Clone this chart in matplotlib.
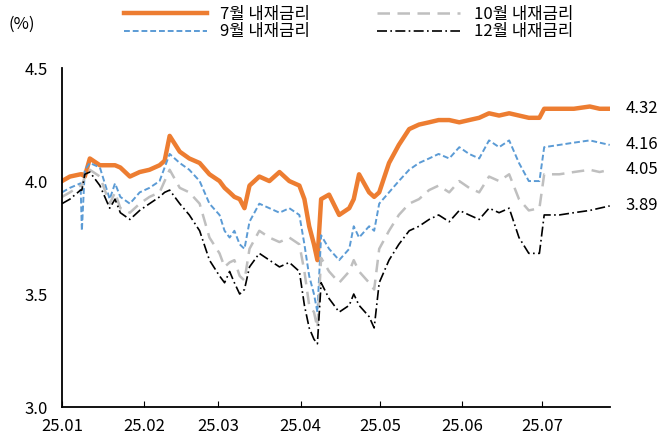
import numpy as np
import matplotlib
matplotlib.use("Agg")
import matplotlib.pyplot as plt

plt.rcParams["font.family"] = ["Noto Sans CJK JP", "Noto Sans CJK KR", "Noto Sans CJK SC",
                               "DejaVu Sans"]

# days since 2025-01-01
days = [0, 3, 7, 7.5, 8.6, 10.5, 14.3, 18, 20, 22, 25.6, 29.3, 33, 36.8, 38.7, 40.6,
        44.4, 48, 51.9, 55.6, 59.4, 61.3, 63.2, 65, 67, 68.8, 70.7, 74.4, 78.2, 82,
        85.7, 89.5, 91.4, 93.2, 95, 96.3, 97.7, 100.7, 104.5, 108.3, 110, 112, 115.8,
        117.7, 119.6, 123.3, 127, 130.9, 134.6, 138.4, 142, 146, 149.8, 153.5, 157.3,
        161, 164.8, 168.6, 172.3, 176, 180, 181.8, 187.5, 193, 199, 202.7, 206.5]

jul = [4.00, 4.02, 4.03, 4.03, 4.02, 4.10, 4.07, 4.07, 4.07, 4.06, 4.02, 4.04, 4.05,
       4.07, 4.09, 4.20, 4.13, 4.10, 4.08, 4.03, 4.00, 3.97, 3.95, 3.93, 3.92, 3.88,
       3.98, 4.02, 4.00, 4.04, 4.00, 3.98, 3.92, 3.80, 3.72, 3.65, 3.92, 3.94, 3.85,
       3.88, 3.92, 4.03, 3.95, 3.93, 3.95, 4.08, 4.16, 4.23, 4.25, 4.26, 4.27, 4.27,
       4.26, 4.27, 4.28, 4.30, 4.29, 4.30, 4.29, 4.28, 4.28, 4.32, 4.32, 4.32, 4.33,
       4.32, 4.32]
sep = [3.95, 3.97, 3.99, 3.78, 4.05, 4.08, 4.06, 3.92, 3.99, 3.93, 3.90, 3.95, 3.97,
       4.00, 4.06, 4.12, 4.08, 4.05, 4.00, 3.90, 3.85, 3.78, 3.75, 3.78, 3.72, 3.70,
       3.82, 3.90, 3.88, 3.86, 3.88, 3.85, 3.72, 3.58, 3.50, 3.42, 3.76, 3.70, 3.65,
       3.70, 3.80, 3.75, 3.80, 3.78, 3.90, 3.95, 4.00, 4.05, 4.08, 4.10, 4.12, 4.10,
       4.15, 4.12, 4.10, 4.18, 4.15, 4.18, 4.08, 4.00, 4.00, 4.15, 4.16, 4.17, 4.18,
       4.17, 4.16]
oct_ = [3.93, 3.95, 3.98, 3.98, 4.02, 4.05, 4.02, 3.90, 3.95, 3.88, 3.86, 3.90, 3.93,
        3.95, 4.00, 4.05, 3.97, 3.95, 3.90, 3.75, 3.68, 3.62, 3.64, 3.65, 3.58, 3.56,
        3.70, 3.78, 3.75, 3.73, 3.75, 3.72, 3.60, 3.45, 3.42, 3.35, 3.66, 3.60, 3.55,
        3.60, 3.65, 3.60, 3.55, 3.52, 3.70, 3.78, 3.85, 3.90, 3.92, 3.96, 3.98, 3.95,
        4.00, 3.97, 3.95, 4.02, 4.00, 4.03, 3.92, 3.87, 3.88, 4.03, 4.03, 4.04, 4.05,
        4.04, 4.05]
dec = [3.90, 3.92, 3.96, 3.96, 4.03, 4.04, 3.98, 3.88, 3.92, 3.86, 3.83, 3.87, 3.90,
       3.93, 3.95, 3.96, 3.90, 3.85, 3.78, 3.65, 3.58, 3.55, 3.60, 3.55, 3.50, 3.52,
       3.62, 3.68, 3.65, 3.62, 3.64, 3.60, 3.45, 3.35, 3.30, 3.28, 3.55, 3.48, 3.42,
       3.45, 3.50, 3.45, 3.40, 3.35, 3.55, 3.65, 3.72, 3.78, 3.80, 3.83, 3.85, 3.82,
       3.87, 3.85, 3.83, 3.88, 3.86, 3.88, 3.75, 3.68, 3.68, 3.85, 3.85, 3.86, 3.87,
       3.88, 3.89]

month_days = [0, 31, 59, 90, 120, 151, 181]
month_labels = ["25.01", "25.02", "25.03", "25.04", "25.05", "25.06", "25.07"]

fig = plt.figure(figsize=(6.7, 4.48), dpi=100)
ax = fig.add_axes([0.0925, 0.0915, 0.8175, 0.7565])

l1, = ax.plot(days, jul, color="#ED7D31", lw=3.2, label="7월 내재금리")
l2, = ax.plot(days, sep, color="#5B9BD5", lw=1.4, ls=(0, (3, 1.5)), label="9월 내재금리")
l3, = ax.plot(days, oct_, color="#BFBFBF", lw=1.8, ls=(0, (5, 3)), label="10월 내재금리")
l4, = ax.plot(days, dec, color="black", lw=1.2, ls=(0, (6, 2, 1, 2)), label="12월 내재금리")

for s, c in [(jul, "4.32"), (sep, "4.16"), (oct_, "4.05"), (dec, "3.89")]:
    ax.text(days[-1] + 6, s[-1], c, fontsize=12, va="center", ha="left")

ax.set_xlim(0, days[-1])
ax.set_ylim(3.0, 4.5)
ax.set_yticks([3.0, 3.5, 4.0, 4.5])
ax.set_yticklabels(["3.0", "3.5", "4.0", "4.5"], fontsize=12)
ax.set_xticks(month_days)
ax.set_xticklabels(month_labels, fontsize=12)
ax.tick_params(axis="x", direction="in", length=4, pad=8)
ax.tick_params(axis="y", length=0, pad=10)
for sp in ["top", "right"]:
    ax.spines[sp].set_visible(False)
ax.spines["left"].set_linewidth(1.3)
ax.spines["bottom"].set_linewidth(1.3)

fig.text(0.012, 0.945, "(%)", fontsize=12, va="center")
fig.legend(handles=[l1, l2, l3, l4], loc="upper center", bbox_to_anchor=(0.52, 1.01),
           ncol=2, frameon=False, fontsize=12, handlelength=5, columnspacing=4,
           labelspacing=0.05, borderaxespad=0.2)

fig.savefig("out.png", dpi=100)
